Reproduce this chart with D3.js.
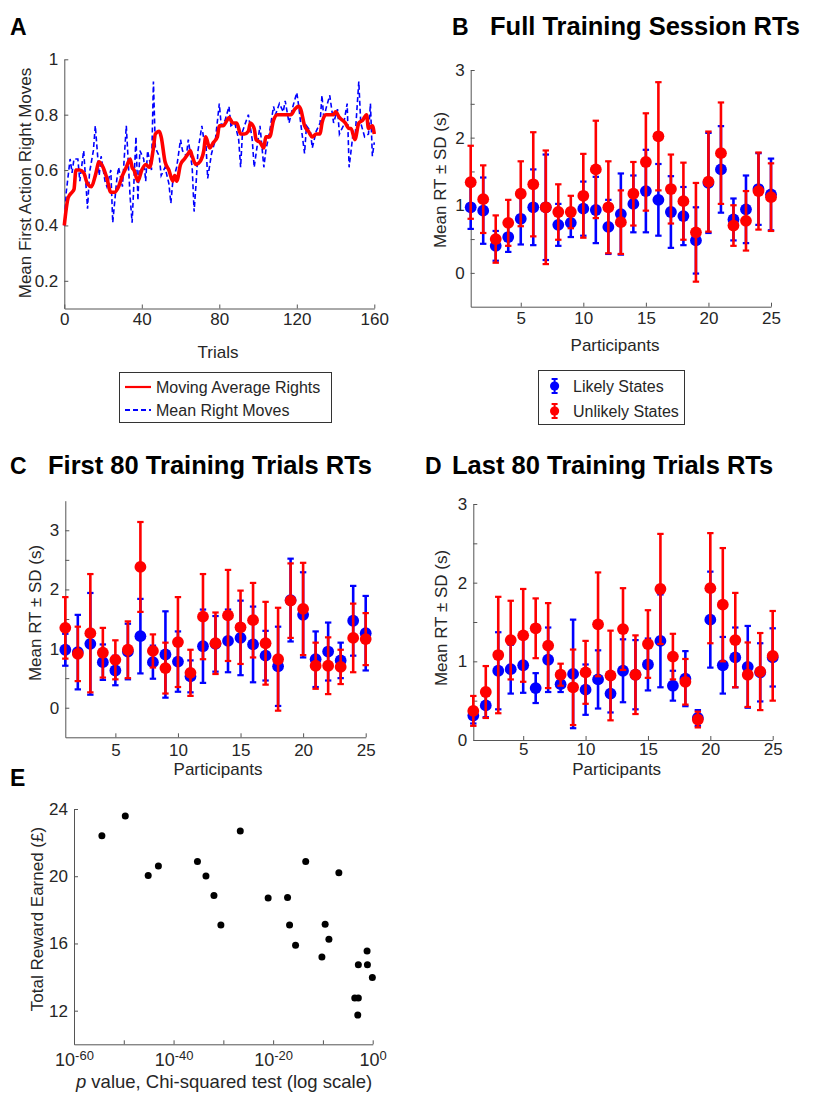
<!DOCTYPE html>
<html>
<head>
<meta charset="utf-8">
<script src="https://cdn.jsdelivr.net/npm/d3@7/dist/d3.min.js"></script>
<style>
  html, body { margin: 0; padding: 0; background: #fff; }
  svg { display: block; }
</style>
</head>
<body>
<svg id="fig" width="814" height="1095"></svg>
<script>
// ---------- Panel A: first-action right moves over training ----------
const trialsAvg = [0,2,4,5,6,8,10,12,14,16,18,20,22,24,26,28,30,32,34,35,36,38,40,42,44,46,47,49,50,52,54,56,57,58,60,62,64,65,66,68,70,72,73,75,77,79,80,82,84,85,87,89,91,93,95,96,98,99,101,103,104,106,108,110,112,114,116,117,119,121,122,124,126,128,130,132,133,135,137,139,140,142,145,147,148,150,152,154,156,157,159,160];
const movingAvgRights = [0.40,0.50,0.52,0.53,0.60,0.60,0.59,0.55,0.54,0.58,0.63,0.61,0.57,0.52,0.52,0.54,0.58,0.61,0.64,0.61,0.60,0.56,0.60,0.62,0.61,0.68,0.73,0.74,0.72,0.63,0.60,0.56,0.58,0.56,0.62,0.64,0.66,0.67,0.65,0.62,0.63,0.67,0.72,0.68,0.70,0.72,0.76,0.76,0.78,0.79,0.77,0.77,0.73,0.73,0.74,0.77,0.75,0.71,0.70,0.68,0.72,0.72,0.78,0.80,0.80,0.80,0.80,0.80,0.82,0.83,0.82,0.76,0.74,0.72,0.73,0.73,0.77,0.80,0.80,0.80,0.81,0.79,0.77,0.75,0.75,0.71,0.77,0.78,0.80,0.75,0.76,0.73];

const trialsRaw = [0,1,3,4,5,7,8,10,12,13,15,16,18,19,21,22,24,25,27,28,30,32,34,35,37,38,39,41,42,43,45,46,47,49,50,52,54,55,56,58,60,61,63,64,66,67,68,69,71,72,73,74,76,78,80,81,83,85,86,88,90,91,92,94,95,97,98,100,101,103,104,106,108,109,111,113,114,116,118,120,121,122,124,125,127,128,130,132,133,134,135,137,139,141,142,144,146,147,149,150,152,153,155,157,158,159,160];
const meanRightMoves = [0.40,0.52,0.64,0.59,0.64,0.64,0.56,0.67,0.46,0.59,0.67,0.76,0.58,0.65,0.56,0.54,0.60,0.41,0.56,0.61,0.54,0.76,0.50,0.41,0.72,0.49,0.67,0.64,0.56,0.67,0.60,0.92,0.68,0.65,0.58,0.61,0.55,0.48,0.56,0.61,0.71,0.67,0.65,0.71,0.61,0.45,0.55,0.67,0.76,0.71,0.71,0.57,0.66,0.71,0.84,0.76,0.78,0.83,0.76,0.77,0.71,0.61,0.74,0.78,0.80,0.71,0.61,0.71,0.76,0.61,0.67,0.74,0.83,0.80,0.84,0.81,0.85,0.77,0.83,0.88,0.83,0.77,0.66,0.76,0.74,0.68,0.74,0.77,0.87,0.78,0.82,0.87,0.77,0.82,0.73,0.76,0.84,0.61,0.73,0.71,0.92,0.77,0.72,0.73,0.84,0.65,0.70];

const trialTicks = [0,40,80,120,160];
const rightTicks = [0.2,0.4,0.6,0.8,1];

// ---------- Panels B-D: reaction times per participant ----------
const participants = [1,2,3,4,5,6,7,8,9,10,11,12,13,14,15,16,17,18,19,20,21,22,23,24,25];
const participantTicks = [5,10,15,20,25];

const fullLikelyMean   = [0.97,0.92,0.40,0.53,0.80,0.97,0.97,0.71,0.74,0.95,0.93,0.68,0.87,1.02,1.21,1.08,0.90,0.84,0.48,1.33,1.53,0.79,0.94,1.24,1.16];
const fullLikelySD     = [0.32,0.49,0.22,0.22,0.38,0.56,0.78,0.31,0.21,0.40,0.49,0.40,0.60,0.42,0.61,0.53,0.53,0.43,0.49,0.74,0.64,0.31,0.50,0.53,0.53];
const fullUnlikelyMean = [1.34,1.09,0.50,0.74,1.17,1.31,0.97,0.90,0.90,1.14,1.53,0.97,0.75,1.17,1.64,2.02,1.24,1.06,0.60,1.35,1.77,0.70,0.77,1.21,1.12];
const fullUnlikelySD   = [0.54,0.50,0.35,0.34,0.48,0.77,0.84,0.41,0.24,0.62,0.72,0.68,0.47,0.47,0.72,0.80,0.51,0.57,0.73,0.74,0.75,0.30,0.44,0.57,0.50];

const firstLikelyMean   = [0.98,0.94,1.08,0.77,0.63,0.95,1.21,0.77,0.90,0.78,0.53,1.04,1.08,1.13,1.18,1.07,0.88,0.70,1.82,1.57,0.82,0.95,0.80,1.47,1.26];
const firstLikelySD     = [0.27,0.63,0.86,0.30,0.25,0.47,0.63,0.28,0.73,0.51,0.27,0.62,0.47,0.53,0.63,0.64,0.42,0.67,0.70,0.72,0.47,0.49,0.30,0.59,0.63];
const firstUnlikelyMean = [1.35,0.91,1.26,0.93,0.81,0.98,2.38,0.96,0.67,1.11,0.59,1.54,1.09,1.56,1.36,1.48,1.09,0.82,1.81,1.67,0.71,0.71,0.69,1.18,1.16];
const firstUnlikelySD   = [0.52,0.46,1.00,0.42,0.33,0.48,0.76,0.28,0.43,0.76,0.39,0.72,0.52,0.77,0.62,0.63,0.70,0.87,0.63,0.78,0.39,0.48,0.29,0.58,0.44];

const lastLikelyMean   = [0.31,0.44,0.88,0.90,0.95,0.66,1.02,0.71,0.84,0.64,0.77,0.59,0.88,0.83,0.96,1.26,0.69,0.78,0.28,1.53,0.95,1.05,0.93,0.86,1.05];
const lastLikelySD     = [0.10,0.15,0.49,0.31,0.35,0.19,0.41,0.10,0.69,0.32,0.37,0.24,0.40,0.44,0.33,0.59,0.19,0.35,0.10,0.61,0.36,0.38,0.52,0.37,0.37];
const lastUnlikelyMean = [0.37,0.61,1.08,1.27,1.33,1.42,1.20,0.83,0.67,0.86,1.47,0.82,1.41,0.83,1.22,1.92,1.06,0.74,0.26,1.93,1.72,1.27,0.83,0.87,1.07];
const lastUnlikelySD   = [0.19,0.33,0.74,0.50,0.59,0.38,0.54,0.14,0.48,0.40,0.66,0.57,0.52,0.50,0.43,0.70,0.29,0.29,0.10,0.70,0.72,0.60,0.41,0.49,0.57];

const rtTicks = [0,0.5,1,1.5,2,2.5,3];

// ---------- Panel E: reward vs. chi-squared p value ----------
const pValues = [4.0e-55,2.0e-50,8.0e-46,9.0e-44,6.3e-36,3.2e-34,1.3e-32,3.2e-31,2.5e-27,1.0e-21,7.9e-18,2.0e-17,3.2e-16,3.5e-14,6.3e-11,2.8e-10,1.6e-9,1.6e-7,2.5e-4,1.3e-3,1.3e-3,1.0e-3,0.074,0.087,0.85];
const totalReward = [22.41,23.58,20.05,20.61,20.87,20.01,18.86,17.10,22.69,18.70,18.74,17.10,15.89,20.87,15.19,17.14,16.25,20.21,12.75,12.75,14.74,11.74,15.55,14.74,13.98];
const pTicks = [1e-60,1e-50,1e-40,1e-30,1e-20,1e-10,1];
const pTickExponents = ["-60","","-40","","-20","","0"];
const rewardTicks = [12,16,20,24];

// ---------- drawing ----------
const FONT = "'Liberation Sans', Arial, Helvetica, sans-serif";
const AXIS = "#555555";
const TEXT = "#262626";
const BLUE = "#0000ff";
const RED = "#ff0000";

const svg = d3.select("#fig");
svg.append("rect").attr("width", 814).attr("height", 1095).attr("fill", "#fff");

function styleAxis(g, size) {
  g.select(".domain").attr("stroke", AXIS).attr("stroke-width", 1);
  g.selectAll(".tick line").attr("stroke", AXIS).attr("stroke-width", 1);
  g.selectAll(".tick text").attr("fill", TEXT).attr("font-size", size || 17).attr("font-family", FONT);
}

function drawAxes(x, y, xTicks, yTicks, xFmt, yFmt, xPad, yPad, xSize) {
  const gx = svg.append("g")
    .attr("transform", `translate(0,${y.range()[0]})`)
    .call(d3.axisBottom(x).tickValues(xTicks).tickFormat(xFmt)
      .tickSizeInner(-4).tickSizeOuter(0).tickPadding(xPad));
  styleAxis(gx, xSize);
  const gy = svg.append("g")
    .attr("transform", `translate(${x.range()[0]},0)`)
    .call(d3.axisLeft(y).tickValues(yTicks).tickFormat(yFmt)
      .tickSizeInner(-4).tickSizeOuter(0).tickPadding(yPad));
  styleAxis(gy);
  return { gx, gy };
}

function label(text, cx, cy, opts = {}) {
  const t = svg.append("text")
    .attr("font-family", FONT)
    .attr("font-size", opts.size || 17)
    .attr("fill", opts.fill || TEXT)
    .attr("text-anchor", opts.anchor || "middle")
    .attr("dy", "0.35em");
  if (opts.rotate) t.attr("transform", `translate(${cx},${cy}) rotate(-90)`);
  else t.attr("x", cx).attr("y", cy);
  if (opts.weight) t.attr("font-weight", opts.weight);
  t.text(text);
  return t;
}

function heading(letter, lx, title, tx, baseline) {
  svg.append("text").attr("x", lx).attr("y", baseline)
    .attr("font-family", FONT).attr("font-weight", "bold").attr("font-size", 23)
    .attr("fill", "#000").text(letter);
  if (title) {
    svg.append("text").attr("x", tx).attr("y", baseline)
      .attr("font-family", FONT).attr("font-weight", "bold").attr("font-size", 25.5)
      .attr("fill", "#000").text(title);
  }
}

const intOnly = d => Number.isInteger(d) ? String(d) : "";

// ----- A -----
{
  const x = d3.scaleLinear().domain([0, 160]).range([64.3, 374.3]);
  const y = d3.scaleLinear().domain([0.1, 1]).range([308.5, 59.3]);
  drawAxes(x, y, trialTicks, rightTicks, d => String(d),
    d => d === 1 ? "1" : d3.format(".1f")(d), 4, 6);

  const raw = trialsRaw.map((t, i) => [t, meanRightMoves[i]]);
  const avg = trialsAvg.map((t, i) => [t, movingAvgRights[i]]);
  const line = d3.line().x(d => x(d[0])).y(d => y(d[1]));

  svg.append("path").datum(raw).attr("d", line)
    .attr("fill", "none").attr("stroke", BLUE).attr("stroke-width", 1.6)
    .attr("stroke-dasharray", "5,3");
  svg.append("path").datum(avg).attr("d", d3.line().curve(d3.curveMonotoneX).x(d => x(d[0])).y(d => y(d[1])))
    .attr("fill", "none").attr("stroke", RED).attr("stroke-width", 3.6)
    .attr("stroke-linejoin", "round");

  label("Mean First Action Right Moves", 25, 183, { rotate: true });
  label("Trials", 218, 352);
  heading("A", 10, null, 0, 35);

  // legend
  const lg = svg.append("g");
  lg.append("rect").attr("x", 119.5).attr("y", 372.5).attr("width", 212).attr("height", 50)
    .attr("fill", "#fff").attr("stroke", "#333").attr("stroke-width", 1);
  lg.append("line").attr("x1", 125).attr("x2", 151).attr("y1", 387).attr("y2", 387)
    .attr("stroke", RED).attr("stroke-width", 2.2);
  lg.append("line").attr("x1", 125).attr("x2", 151).attr("y1", 410).attr("y2", 410)
    .attr("stroke", BLUE).attr("stroke-width", 1.8).attr("stroke-dasharray", "5,3");
  lg.append("text").attr("x", 156).attr("y", 387).attr("dy", "0.35em")
    .attr("font-family", FONT).attr("font-size", 16).attr("fill", TEXT).text("Moving Average Rights");
  lg.append("text").attr("x", 156).attr("y", 410).attr("dy", "0.35em")
    .attr("font-family", FONT).attr("font-size", 16).attr("fill", TEXT).text("Mean Right Moves");
}

// error-bar panel
function rtPanel(xRange, yDomain, yRange, likelyM, likelySD, unlikelyM, unlikelySD, xPad) {
  const x = d3.scaleLinear().domain([1, 25]).range(xRange);
  const y = d3.scaleLinear().domain(yDomain).range(yRange);
  drawAxes(x, y, participantTicks, rtTicks, d => String(d), intOnly, xPad, 6);

  const series = [
    { m: likelyM, sd: likelySD, c: BLUE },
    { m: unlikelyM, sd: unlikelySD, c: RED }
  ];
  series.forEach(s => {
    const g = svg.append("g");
    const rows = participants.map((p, i) => ({ p, m: s.m[i], sd: s.sd[i] }));
    const bars = g.selectAll("g.bar").data(rows).join("g").attr("class", "bar");
    bars.append("line")
      .attr("x1", d => x(d.p)).attr("x2", d => x(d.p))
      .attr("y1", d => y(d.m - d.sd)).attr("y2", d => y(d.m + d.sd))
      .attr("stroke", s.c).attr("stroke-width", 2.6);
    [-1, 1].forEach(k => {
      bars.append("line")
        .attr("x1", d => x(d.p) - 3.2).attr("x2", d => x(d.p) + 3.2)
        .attr("y1", d => y(d.m + k * d.sd)).attr("y2", d => y(d.m + k * d.sd))
        .attr("stroke", s.c).attr("stroke-width", 2.2);
    });
    bars.append("circle")
      .attr("cx", d => x(d.p)).attr("cy", d => y(d.m)).attr("r", 5.9)
      .attr("fill", s.c);
  });
  return { x, y };
}

// ----- B -----
rtPanel([470.7, 771], [-0.5, 3], [306.7, 70],
  fullLikelyMean, fullLikelySD, fullUnlikelyMean, fullUnlikelySD, 5);
label("Mean RT \u00b1 SD (s)", 440.5, 180, { rotate: true });
label("Participants", 615, 345);
heading("B", 452, "Full Training Session RTs", 490, 35);

// legend for B
{
  const lg = svg.append("g");
  lg.append("rect").attr("x", 538.5).attr("y", 370.5).attr("width", 146).attr("height", 54)
    .attr("fill", "#fff").attr("stroke", "#333").attr("stroke-width", 1);
  [[386, BLUE, "Likely States"], [411, RED, "Unlikely States"]].forEach(([cy, c, t]) => {
    lg.append("line").attr("x1", 554.6).attr("x2", 554.6).attr("y1", cy - 7).attr("y2", cy + 7)
      .attr("stroke", c).attr("stroke-width", 2);
    lg.append("line").attr("x1", 551.6).attr("x2", 557.6).attr("y1", cy - 7).attr("y2", cy - 7)
      .attr("stroke", c).attr("stroke-width", 2);
    lg.append("line").attr("x1", 551.6).attr("x2", 557.6).attr("y1", cy + 7).attr("y2", cy + 7)
      .attr("stroke", c).attr("stroke-width", 2);
    lg.append("circle").attr("cx", 554.6).attr("cy", cy).attr("r", 4.6).attr("fill", c);
    lg.append("text").attr("x", 573).attr("y", cy).attr("dy", "0.35em")
      .attr("font-family", FONT).attr("font-size", 16).attr("fill", TEXT).text(t);
  });
}

// ----- C -----
rtPanel([65.3, 365.7], [-0.5, 3.5], [737.3, 500.7],
  firstLikelyMean, firstLikelySD, firstUnlikelyMean, firstUnlikelySD, 7);
label("Mean RT \u00b1 SD (s)", 35, 613, { rotate: true });
label("Participants", 218, 769);
heading("C", 10, "First 80 Training Trials RTs", 48, 474);

// ----- D -----
rtPanel([473.3, 772.7], [0, 3], [740, 504],
  lastLikelyMean, lastLikelySD, lastUnlikelyMean, lastUnlikelySD, 3);
label("Mean RT \u00b1 SD (s)", 440.7, 618, { rotate: true });
label("Participants", 616.7, 769);
heading("D", 425, "Last 80 Training Trials RTs", 452, 474);

// ----- E -----
{
  const x = d3.scaleLog().domain([1e-60, 1]).range([74, 372.7]);
  const y = d3.scaleLinear().domain([10, 24]).range([1044.3, 809]);
  const { gx } = drawAxes(x, y, pTicks, rewardTicks, () => "", d => String(d), 9, 6, 18);

  gx.selectAll(".tick text").each(function (d, i) {
    const exp = pTickExponents[i];
    if (!exp) return;
    const t = d3.select(this).text(null);
    t.append("tspan").text("10");
    t.append("tspan").attr("dy", "-0.45em").attr("font-size", 13).text(exp);
  });

  svg.append("g").selectAll("circle")
    .data(pValues.map((p, i) => ({ p, r: totalReward[i] })))
    .join("circle")
    .attr("cx", d => x(d.p)).attr("cy", d => y(d.r)).attr("r", 3.5)
    .attr("fill", "#000");

  label("Total Reward Earned (\u00a3)", 37.5, 919, { rotate: true });
  const xl = svg.append("text").attr("x", 224).attr("y", 1082).attr("dy", "0.35em")
    .attr("text-anchor", "middle").attr("font-family", FONT).attr("font-size", 18.5).attr("fill", TEXT);
  xl.append("tspan").attr("font-style", "italic").text("p");
  xl.append("tspan").text(" value, Chi-squared test (log scale)");
  heading("E", 10, null, 0, 786);
}
</script>
</body>
</html>
